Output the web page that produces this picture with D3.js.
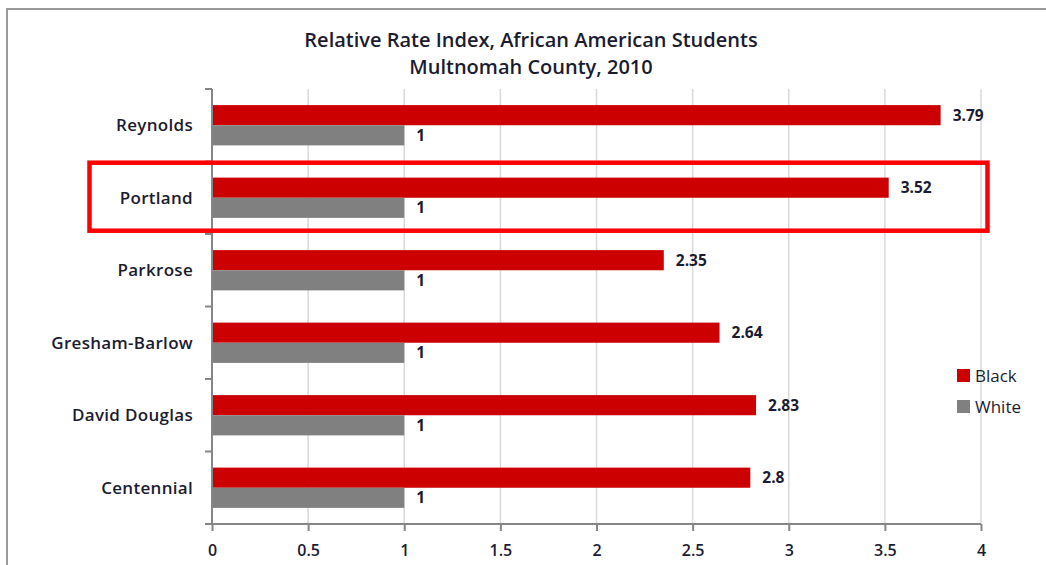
<!DOCTYPE html>
<html>
<head>
<meta charset="utf-8">
<script src="https://cdn.jsdelivr.net/npm/d3@7"></script>
<style>
  html, body { margin: 0; padding: 0; background: #fff; }
  svg { display: block; font-family: "Open Sans", Lato, sans-serif; }
</style>
</head>
<body>
<svg id="chart" width="1046" height="565"></svg>
<script>
// Relative rate index by district, Multnomah County, 2010
const districts = ["Reynolds", "Portland", "Parkrose", "Gresham-Barlow", "David Douglas", "Centennial"];
const blackValues = [3.79, 3.52, 2.35, 2.64, 2.83, 2.8];
const whiteValues = [1, 1, 1, 1, 1, 1];
const seriesNames = ["Black", "White"];
const xTicks = [0, 0.5, 1, 1.5, 2, 2.5, 3, 3.5, 4];
const titleLines = ["Relative Rate Index, African American Students", "Multnomah County, 2010"];
const highlighted = "Portland";

const colors = { Black: "#cc0000", White: "#808080" };
const textColor = "#1c1c30";
const font = "'Open Sans', Lato, sans-serif";

const svg = d3.select("#chart");
const margin = { left: 212, right: 65, top: 89, bottom: 41 };
const W = 1046, H = 565;

// outer chart frame (runs off the right and bottom edges)
svg.append("rect")
  .attr("x", 7).attr("y", 9).attr("width", 1060).attr("height", 580)
  .attr("fill", "none").attr("stroke", "#9a9a9a").attr("stroke-width", 2);

const x = d3.scaleLinear().domain([0, 4]).range([margin.left, W - margin.right]);
const y = d3.scaleBand().domain(districts).range([margin.top, H - margin.bottom]);
const inner = d3.scaleBand().domain(seriesNames).range([0, y.bandwidth()]).paddingOuter(0.8).paddingInner(0);

// vertical gridlines
svg.append("g").selectAll("line").data(xTicks.filter(d => d > 0)).join("line")
  .attr("x1", d => x(d)).attr("x2", d => x(d))
  .attr("y1", margin.top).attr("y2", H - margin.bottom)
  .attr("stroke", "#d9d9d9").attr("stroke-width", 1.5);

// bars
const rows = districts.map((d, i) => ({ name: d, Black: blackValues[i], White: whiteValues[i] }));
const groups = svg.append("g").selectAll("g").data(rows).join("g")
  .attr("transform", d => `translate(0,${y(d.name)})`);

groups.selectAll("rect").data(d => seriesNames.map(s => ({ s, v: d[s] }))).join("rect")
  .attr("x", x(0))
  .attr("y", d => inner(d.s))
  .attr("width", d => x(d.v) - x(0))
  .attr("height", inner.bandwidth())
  .attr("fill", d => colors[d.s]);

groups.selectAll("text").data(d => seriesNames.map(s => ({ s, v: d[s] }))).join("text")
  .attr("x", d => x(d.v) + 12)
  .attr("y", d => inner(d.s) + inner.bandwidth() / 2)
  .attr("dy", "0.35em")
  .attr("fill", textColor)
  .attr("font-size", 15.5).attr("font-weight", 700)
  .text(d => d.v);

// y axis
const yAxis = svg.append("g").attr("transform", `translate(${margin.left},0)`);
yAxis.append("line").attr("x1", 0).attr("x2", 0)
  .attr("y1", margin.top).attr("y2", H - margin.bottom)
  .attr("stroke", "#868686").attr("stroke-width", 2);
const boundaries = districts.map(d => y(d)).concat([H - margin.bottom]);
yAxis.selectAll("line.tick").data(boundaries).join("line").attr("class", "tick")
  .attr("x1", -7).attr("x2", 0).attr("y1", d => d).attr("y2", d => d)
  .attr("stroke", "#868686").attr("stroke-width", 2);
yAxis.selectAll("text").data(districts).join("text")
  .attr("x", -19).attr("y", d => y(d) + y.bandwidth() / 2).attr("dy", "0.35em")
  .attr("text-anchor", "end").attr("fill", textColor)
  .attr("font-size", 17).attr("font-weight", 600).attr("letter-spacing", 0.3)
  .text(d => d);

// x axis
const xAxis = svg.append("g").attr("transform", `translate(0,${H - margin.bottom})`)
  .call(d3.axisBottom(x).tickValues(xTicks).tickSize(7).tickFormat(d3.format("")));
xAxis.select(".domain").attr("stroke", "#868686").attr("stroke-width", 2)
  .attr("d", `M${x(0)},0H${x(4)}`);
xAxis.selectAll(".tick line").attr("stroke", "#868686").attr("stroke-width", 2);
xAxis.selectAll(".tick text").attr("fill", textColor).attr("font-size", 16)
  .attr("font-weight", 600).attr("font-family", font).attr("dy", "1.4em");

// title
svg.append("g").selectAll("text").data(titleLines).join("text")
  .attr("x", 531).attr("y", (d, i) => 47 + i * 27)
  .attr("text-anchor", "middle").attr("fill", textColor)
  .attr("font-size", 20).attr("font-weight", 600)
  .text(d => d);

// legend
const legend = svg.append("g").selectAll("g").data(seriesNames).join("g")
  .attr("transform", (d, i) => `translate(957,${369 + i * 31})`);
legend.append("rect").attr("width", 13).attr("height", 13).attr("fill", d => colors[d]);
legend.append("text").attr("x", 18).attr("y", 7).attr("dy", "0.35em")
  .attr("fill", textColor).attr("font-size", 17).attr("font-weight", 400)
  .text(d => d);

// highlight box around one district
svg.append("rect")
  .attr("x", 89.5).attr("y", y(highlighted) + 1.2)
  .attr("width", 898).attr("height", 68)
  .attr("fill", "none").attr("stroke", "#ff0000").attr("stroke-width", 4.5);
</script>
</body>
</html>
